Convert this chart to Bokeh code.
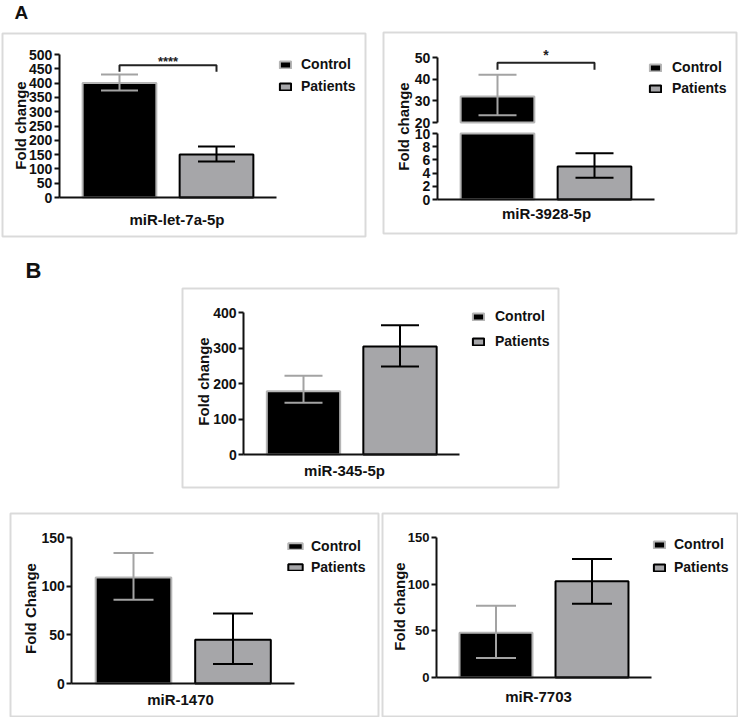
import math
from bokeh.plotting import figure
from bokeh.models import (Range1d, LinearAxis, FixedTicker, ColumnDataSource, Whisker,
                          TeeHead, Legend, LegendItem, BoxAnnotation)
from bokeh.core.properties import value
from bokeh.embed import file_html
from bokeh.resources import INLINE

# ---------------- data ----------------
groups = ["Control", "Patients"]
mirnas = ["miR-let-7a-5p", "miR-3928-5p", "miR-345-5p", "miR-1470", "miR-7703"]
y_titles = ["Fold change", "Fold change", "Fold change", "Fold Change", "Fold change"]
panel_letters = ["A", "B"]

let7a_mean = [400, 150]
let7a_upper = [430, 178]
let7a_lower = [374, 126]
let7a_ticks = [0, 50, 100, 150, 200, 250, 300, 350, 400, 450, 500]

mir3928_mean = [32, 5.0]
mir3928_upper = [42, 7.0]
mir3928_lower = [23.3, 3.3]
mir3928_ticks_low = [0, 2, 4, 6, 8, 10]
mir3928_ticks_high = [20, 30, 40, 50]
mir3928_break = [10, 20]

mir345_mean = [178, 304]
mir345_upper = [222, 364]
mir345_lower = [146, 248]
mir345_ticks = [0, 100, 200, 300, 400]

mir1470_mean = [109, 45]
mir1470_upper = [134, 72]
mir1470_lower = [86, 20]
mir1470_ticks = [0, 50, 100, 150]

mir7703_mean = [48, 103]
mir7703_upper = [77, 127]
mir7703_lower = [21, 79]
mir7703_ticks = [0, 50, 100, 150]

sig_labels = ["****", "*"]
sig_levels = [462, 47.6]
sig_drops = [440, 44.4]

# ---------------- layout ----------------
W, H = 738, 717
RX0, RX1 = 1.0, 739.0      # reference-pixel window shown by the frame
RY0, RY1 = 1.0, 718.0
SX = W / (RX1 - RX0)
SY = H / (RY1 - RY0)
FONT_NAME = "Liberation Sans"
FONT = value(FONT_NAME)
XPOS = [i + 1 for i in range(len(groups))]
AX_LO, AX_HI, BAR_W = 0.38, 2.62, 0.76

CTRL_FILL, CTRL_LINE = "#000000", "#b5b5b5"
PAT_FILL, PAT_LINE = "#a6a6a9", "#000000"
ERR_COLORS = ["#a3a3a3", "#000000"]


def xr(c_px, k):
    return Range1d(1 - (c_px - RX0) / k, 1 + (RX1 - c_px) / k)


def yr(p0, v0, p1, v1):
    u = (v1 - v0) / (p0 - p1)
    return Range1d(v0 - (RY1 - p0) * u, v0 + (p0 - RY0) * u)


p = figure(width=W, height=H, x_range=Range1d(RX0, RX1), y_range=Range1d(RY1, RY0),
           x_axis_type=None, y_axis_type=None, toolbar_location=None,
           output_backend="svg", min_border=0, outline_line_color=None,
           background_fill_color="white", border_fill_color="white")


def style_axis(ax, size="14px"):
    ax.axis_line_width = 2
    ax.axis_line_color = "#111111"
    ax.major_tick_line_width = 2
    ax.major_tick_line_color = "#111111"
    ax.major_tick_out = 5
    ax.major_tick_in = 0
    ax.minor_tick_line_color = None
    ax.major_label_text_font = FONT_NAME
    ax.major_label_text_font_style = "bold"
    ax.major_label_text_font_size = size
    ax.major_label_text_color = "#111111"
    ax.major_label_standoff = 2


def add_yaxis(xn, yn, ticks, size="14px"):
    ax = LinearAxis(x_range_name=xn, y_range_name=yn, fixed_location=AX_LO,
                    bounds=(ticks[0], ticks[-1]), ticker=FixedTicker(ticks=ticks))
    style_axis(ax, size)
    p.add_layout(ax, "left")


def add_xaxis(xn, yn):
    ax = LinearAxis(x_range_name=xn, y_range_name=yn, fixed_location=0,
                    bounds=(AX_LO, AX_HI), ticker=FixedTicker(ticks=[]))
    style_axis(ax)
    ax.major_label_text_font_size = "0px"
    p.add_layout(ax, "below")


def bars(xn, yn, means, bottoms=None, tops=None):
    rs = []
    fills = [CTRL_FILL, PAT_FILL]
    lines = [CTRL_LINE, PAT_LINE]
    for i in range(len(groups)):
        b = 0 if bottoms is None else bottoms[i]
        t = means[i] if tops is None else tops[i]
        if t is None:
            rs.append(None)
            continue
        r = p.vbar(x=[XPOS[i]], bottom=[b], top=[t], width=BAR_W,
                   fill_color=fills[i], line_color=lines[i], line_width=2,
                   x_range_name=xn, y_range_name=yn)
        rs.append(r)
    return rs


def errs(xn, yn, uppers, lowers, idx, size=38):
    for i in idx:
        src = ColumnDataSource(dict(base=[XPOS[i]], upper=[uppers[i]], lower=[lowers[i]]))
        c = ERR_COLORS[i]
        w = Whisker(source=src, base="base", upper="upper", lower="lower",
                    dimension="height", line_color=c, line_width=2, level="annotation",
                    upper_head=TeeHead(size=size, line_color=c, line_width=2),
                    lower_head=TeeHead(size=size, line_color=c, line_width=2),
                    x_range_name=xn, y_range_name=yn)
        p.add_layout(w)


def legend(rs, glyph_left, row1_c, gap, standoff, glyph_w=14, glyph_h=9):
    item_h = 20
    spacing = max(0, int(round(gap * SY - item_h)))
    top_ref = row1_c - item_h / 2 / SY
    stop = (top_ref - RY0) * SY
    height = 2 * item_h + spacing
    vx = (glyph_left - RX0) * SX
    vy = H - stop - height
    lg = Legend(items=[LegendItem(label=groups[i], renderers=[rs[i]]) for i in range(len(groups))],
                location=(vx, vy), orientation="vertical", spacing=spacing,
                glyph_width=glyph_w, glyph_height=glyph_h, label_height=item_h,
                label_standoff=standoff, padding=0, margin=0,
                border_line_color=None, background_fill_alpha=0,
                label_text_font=FONT_NAME, label_text_font_style="bold",
                label_text_font_size="14px", label_text_color="#111111")
    p.add_layout(lg, "center")


def bracket(xn, yn, level, drop, label, txt_off, size="13px"):
    xs = [XPOS[0], XPOS[0], XPOS[1], XPOS[1]]
    p.line(x=xs, y=[drop, level, level, drop], line_color="#222222", line_width=2,
           x_range_name=xn, y_range_name=yn)
    p.text(x=[(XPOS[0] + XPOS[1]) / 2], y=[level], text=[label], y_offset=txt_off,
           text_align="center", text_baseline="middle", text_font=FONT,
           text_font_style="bold", text_font_size=size, text_color="#222222",
           x_range_name=xn, y_range_name=yn)


def label_text(x, y, s, size="15px", angle=0.0, align="center", baseline="middle"):
    p.text(x=[x], y=[y], text=[s], angle=angle, text_align=align, text_baseline=baseline,
           text_font=FONT, text_font_style="bold", text_font_size=size, text_color="#111111")


def box(l, r, t, b):
    p.add_layout(BoxAnnotation(left=l, right=r, top=t, bottom=b, fill_alpha=0,
                               line_color="#858585", line_width=2))


# ---- Panel A1: miR-let-7a-5p ----
p.extra_x_ranges["a1x"] = xr(120, 97)
p.extra_y_ranges["a1y"] = yr(198, 0, 55, 500)
box(3, 366, 34, 237)
r = bars("a1x", "a1y", let7a_mean)
errs("a1x", "a1y", let7a_upper, let7a_lower, [0, 1], 37)
add_yaxis("a1x", "a1y", let7a_ticks)
add_xaxis("a1x", "a1y")
bracket("a1x", "a1y", sig_levels[0], sig_drops[0], sig_labels[0], -4)
legend(r, 279, 65, 22, 9)
label_text(21, 126, y_titles[0], angle=math.pi / 2)
label_text(177.5, 220, mirnas[0])

# ---- Panel A2: miR-3928-5p (broken axis) ----
p.extra_x_ranges["a2x"] = xr(498, 97)
p.extra_y_ranges["a2lo"] = yr(200, 0, 134, 10)
p.extra_y_ranges["a2hi"] = yr(123, 20, 58, 50)
box(384, 737, 33, 234)
lo_tops = [min(m, mir3928_break[0]) for m in mir3928_mean]
hi_tops = [m if m > mir3928_break[1] else None for m in mir3928_mean]
r_lo = bars("a2x", "a2lo", mir3928_mean, tops=lo_tops)
bars("a2x", "a2hi", mir3928_mean, bottoms=[mir3928_break[1]] * 2, tops=hi_tops)
errs("a2x", "a2hi", mir3928_upper, mir3928_lower, [i for i in range(2) if mir3928_mean[i] > mir3928_break[1]])
errs("a2x", "a2lo", mir3928_upper, mir3928_lower, [i for i in range(2) if mir3928_mean[i] <= mir3928_break[0]])
add_yaxis("a2x", "a2lo", mir3928_ticks_low)
add_yaxis("a2x", "a2hi", mir3928_ticks_high)
add_xaxis("a2x", "a2lo")
bracket("a2x", "a2hi", sig_levels[1], sig_drops[1], sig_labels[1], -8, "14px")
legend(r_lo, 649, 68, 21, 10)
label_text(404, 127, y_titles[1], angle=math.pi / 2)
label_text(547, 214, mirnas[1])

# ---- Panel B1: miR-345-5p ----
p.extra_x_ranges["b1x"] = xr(304, 96.5)
p.extra_y_ranges["b1y"] = yr(455, 0, 313, 400)
box(183, 559, 289, 488)
r = bars("b1x", "b1y", mir345_mean)
errs("b1x", "b1y", mir345_upper, mir345_lower, [0, 1], 38)
add_yaxis("b1x", "b1y", mir345_ticks)
add_xaxis("b1x", "b1y")
legend(r, 472, 317, 25, 10)
label_text(204, 382, y_titles[2], angle=math.pi / 2)
label_text(345, 471, mirnas[2])

# ---- Panel B2: miR-1470 ----
p.extra_x_ranges["b2x"] = xr(134, 99.5)
p.extra_y_ranges["b2y"] = yr(684, 0, 538, 150)
box(11, 379, 514, 717)
r = bars("b2x", "b2y", mir1470_mean)
errs("b2x", "b2y", mir1470_upper, mir1470_lower, [0, 1], 40)
add_yaxis("b2x", "b2y", mir1470_ticks)
add_xaxis("b2x", "b2y")
legend(r, 287, 547, 21, 7, glyph_w=18, glyph_h=8)
label_text(31, 609, y_titles[3], angle=math.pi / 2)
label_text(181, 700, mirnas[3])

# ---- Panel B3: miR-7703 ----
p.extra_x_ranges["b3x"] = xr(496.5, 96)
p.extra_y_ranges["b3y"] = yr(678, 0, 538, 150)
box(383, 738, 514, 717)
r = bars("b3x", "b3y", mir7703_mean)
errs("b3x", "b3y", mir7703_upper, mir7703_lower, [0, 1], 40)
add_yaxis("b3x", "b3y", mir7703_ticks, "13px")
add_xaxis("b3x", "b3y")
legend(r, 653, 545, 23, 8)
label_text(400, 607, y_titles[4], angle=math.pi / 2)
label_text(539, 697, mirnas[4])

# ---- panel letters ----
label_text(15, 12.5, panel_letters[0], size="19px", align="left")
label_text(26, 271, panel_letters[1], size="22px", align="left")

open("out.html", "w").write(file_html(p, INLINE))
